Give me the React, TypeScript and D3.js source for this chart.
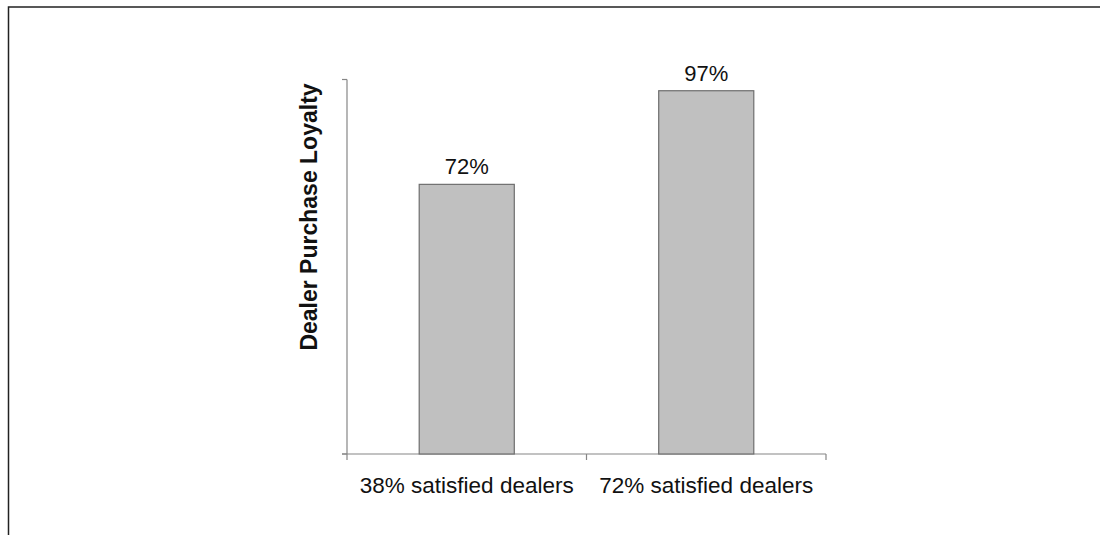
import React from "react";
import * as d3 from "d3";

const categories: string[] = ["38% satisfied dealers", "72% satisfied dealers"];
const values: number[] = [0.72, 0.97];
const valueLabels: string[] = ["72%", "97%"];
const yTitle = "Dealer Purchase Loyalty";

export default function App() {
  const W = 1100;
  const H = 535;
  const left = 347;
  const right = 826;
  const top = 79.5;
  const bottom = 454;

  const x = d3.scaleBand<string>().domain(categories).range([left, right]).paddingInner(0).paddingOuter(0);
  const y = d3.scaleLinear().domain([0, 1]).range([bottom, top]);
  const barW = x.bandwidth() * 0.397;
  const font = "'Liberation Sans', Arial, sans-serif";
  const axisColor = "#868686";
  const tickXs = [...categories.map((c) => x(c)!), right];

  return (
    <svg width={W} height={H} style={{ position: "absolute", left: 0, top: 0 }}>
      <rect x={8.5} y={7} width={1200} height={600} fill="none" stroke="#222" strokeWidth={1.5} />
      {/* y axis */}
      <line x1={left} x2={left} y1={top} y2={bottom} stroke={axisColor} strokeWidth={1.2} />
      {y.ticks(1).map((t) => (
        <line key={t} x1={left - 5} x2={left} y1={y(t)} y2={y(t)} stroke={axisColor} strokeWidth={1.2} />
      ))}
      {/* x axis */}
      <line x1={left - 5} x2={right} y1={bottom} y2={bottom} stroke={axisColor} strokeWidth={1.2} />
      {tickXs.map((tx, i) => (
        <line key={i} x1={tx} x2={tx} y1={bottom} y2={bottom + 6} stroke={axisColor} strokeWidth={1.2} />
      ))}
      {categories.map((c, i) => {
        const cx = x(c)! + x.bandwidth() / 2;
        return (
          <g key={c}>
            <rect
              x={cx - barW / 2}
              y={y(values[i])}
              width={barW}
              height={bottom - y(values[i])}
              fill="#c0c0c0"
              stroke="#6e6e6e"
              strokeWidth={1.2}
            />
            <text x={cx} y={y(values[i]) - 10} textAnchor="middle" fontFamily={font} fontSize={22} fill="#111">
              {valueLabels[i]}
            </text>
            <text x={cx} y={bottom + 39} textAnchor="middle" fontFamily={font} fontSize={22.5} fill="#111">
              {c}
            </text>
          </g>
        );
      })}
      <text
        transform={`translate(${317},${217}) rotate(-90)`}
        textAnchor="middle"
        fontFamily={font}
        fontSize={23}
        fontWeight="bold"
        fill="#111"
      >
        {yTitle}
      </text>
    </svg>
  );
}
